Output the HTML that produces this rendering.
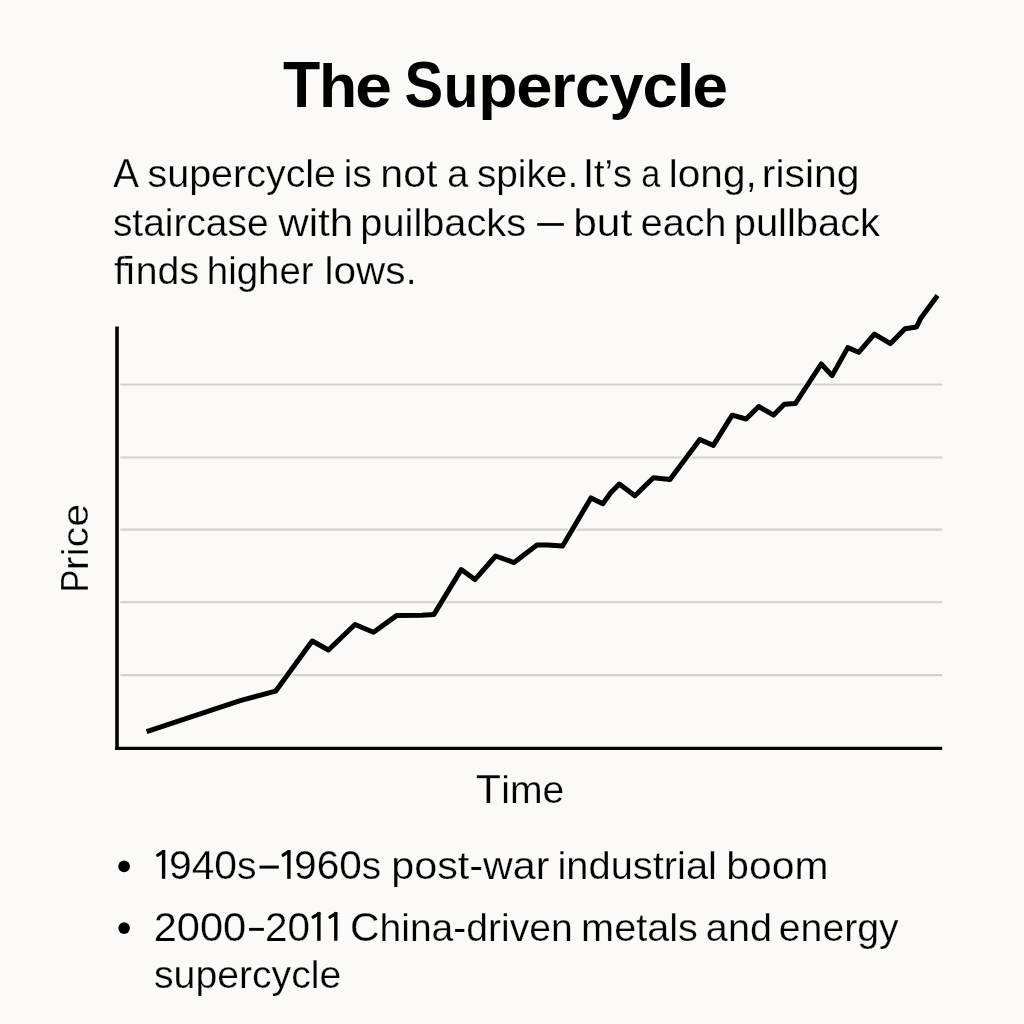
<!DOCTYPE html>
<html>
<head>
<meta charset="utf-8">
<style>
html,body{margin:0;padding:0;}
body{width:1024px;height:1024px;background:#FCFAF6;position:relative;overflow:hidden;font-family:"Liberation Sans",sans-serif;}
svg{position:absolute;left:0;top:0;will-change:transform;}
text{font-family:"Liberation Sans",sans-serif;fill:#000;font-kerning:none;}
</style>
</head>
<body>
<svg width="1024" height="1024" viewBox="0 0 1024 1024">
  <g id="ggrid" stroke="#D3D1CB" stroke-width="2.1">
    <line x1="120.4" y1="384.5" x2="942.2" y2="384.5"/>
    <line x1="120.4" y1="457.5" x2="942.2" y2="457.5"/>
    <line x1="120.4" y1="529.6" x2="942.2" y2="529.6"/>
    <line x1="120.4" y1="602.3" x2="942.2" y2="602.3"/>
    <line x1="120.4" y1="675.1" x2="942.2" y2="675.1"/>
  </g>
  <g id="gaxes" stroke="#000" fill="none">
    <line x1="117" y1="326.4" x2="117" y2="749.9" stroke-width="3.6"/>
    <line x1="115.2" y1="748.4" x2="942.2" y2="748.4" stroke-width="3.1"/>
  </g>
  <polyline id="halo" fill="none" stroke="#FCFAF6" stroke-width="7.5" stroke-linejoin="round" points="146.6,731.7 241,700.4 275.6,691.2 312.2,641 328.4,650 355,624.5 373.5,632.2 396.9,615.4 422.1,615.2 433.8,614.6 461.2,569.6 474.9,579.6 495.6,556 514,562.6 537,545 547.5,545 562.6,546 591,497.9 602.8,503.8 610.5,493 619.3,484 634.9,495.8 653.4,477.8 670,479.5 699.8,439.5 713.3,445.4 732.2,415.2 746.1,419 758.7,406.5 773.6,415.1 784.3,404.2 795.3,403.6 821.2,364 832.1,375.6 847.8,347.6 858.7,352.3 874.4,334.1 890.5,343.6 905,328.8 916.5,327 920.8,318.2 937.5,295.6"/>
  <polyline id="line" fill="none" stroke="#000" stroke-width="5.0" stroke-linejoin="round" points="146.6,731.7 241,700.4 275.6,691.2 312.2,641 328.4,650 355,624.5 373.5,632.2 396.9,615.4 422.1,615.2 433.8,614.6 461.2,569.6 474.9,579.6 495.6,556 514,562.6 537,545 547.5,545 562.6,546 591,497.9 602.8,503.8 610.5,493 619.3,484 634.9,495.8 653.4,477.8 670,479.5 699.8,439.5 713.3,445.4 732.2,415.2 746.1,419 758.7,406.5 773.6,415.1 784.3,404.2 795.3,403.6 821.2,364 832.1,375.6 847.8,347.6 858.7,352.3 874.4,334.1 890.5,343.6 905,328.8 916.5,327 920.8,318.2 937.5,295.6"/>
  <text id="priceP" x="0" y="0" font-size="39.2" stroke="#FCFAF6" stroke-width="0.25" textLength="22.81" lengthAdjust="spacingAndGlyphs" transform="translate(87.6,592.46) rotate(-90)">P</text>
  <text id="priceR" x="0" y="0" font-size="37.5" stroke="#FCFAF6" stroke-width="0.25" textLength="66.35" lengthAdjust="spacingAndGlyphs" transform="translate(87.6,570.31) rotate(-90)">rice</text>
  <g fill="#000">
    <rect x="537.2" y="223.1" width="26.6" height="2.7"/>
    <rect x="259.5" y="865.6" width="19.3" height="3.0"/>
    <rect x="249.1" y="927.9" width="14.8" height="2.9"/>
    <rect x="124" y="263.0" width="7.9" height="2.6"/>
    <rect x="123" y="255.9" width="9.3" height="2.7"/>
  </g>
  <g id="ones" fill="#000"><rect x="161.90" y="850.20" width="3.4" height="28.6"/><line x1="157.80" y1="855.20" x2="163.50" y2="851.60" stroke="#000" stroke-width="3.3" stroke-linecap="round"/><rect x="287.20" y="850.20" width="3.4" height="28.6"/><line x1="283.10" y1="855.20" x2="288.80" y2="851.60" stroke="#000" stroke-width="3.3" stroke-linecap="round"/><rect x="317.20" y="912.20" width="3.4" height="28.6"/><line x1="313.10" y1="917.20" x2="318.80" y2="913.60" stroke="#000" stroke-width="3.3" stroke-linecap="round"/><rect x="334.10" y="912.20" width="3.4" height="28.6"/><line x1="330.00" y1="917.20" x2="335.70" y2="913.60" stroke="#000" stroke-width="3.3" stroke-linecap="round"/></g>
  <circle cx="124.1" cy="866.4" r="5.8" fill="#000"/>
  <circle cx="124.1" cy="928.1" r="5.8" fill="#000"/>
  <text id="t0" x="282.92" y="106.7" font-size="61.5" font-weight="bold" textLength="37.23" lengthAdjust="spacingAndGlyphs"><tspan font-size="65">T</tspan></text>
  <text id="t1" x="318.98" y="106.7" font-size="61.5" font-weight="bold" textLength="38.18" lengthAdjust="spacingAndGlyphs">h</text>
  <text id="t2" x="355.23" y="106.7" font-size="61.5" font-weight="bold" textLength="36.70" lengthAdjust="spacingAndGlyphs">e</text>
  <text id="t3" x="404.56" y="106.7" font-size="61.5" font-weight="bold" textLength="38.64" lengthAdjust="spacingAndGlyphs"><tspan font-size="65">S</tspan></text>
  <text id="t4" x="443.85" y="106.7" font-size="61.5" font-weight="bold" textLength="34.60" lengthAdjust="spacingAndGlyphs">u</text>
  <text id="t5" x="478.15" y="106.7" font-size="61.5" font-weight="bold" textLength="39.19" lengthAdjust="spacingAndGlyphs">p</text>
  <text id="t6" x="516.15" y="106.7" font-size="61.5" font-weight="bold" textLength="36.23" lengthAdjust="spacingAndGlyphs">e</text>
  <text id="t7" x="551.01" y="106.7" font-size="61.5" font-weight="bold" textLength="24.66" lengthAdjust="spacingAndGlyphs">r</text>
  <text id="t8" x="575.08" y="106.7" font-size="61.5" font-weight="bold" textLength="34.97" lengthAdjust="spacingAndGlyphs">c</text>
  <text id="t9" x="609.58" y="106.7" font-size="61.5" font-weight="bold" textLength="34.23" lengthAdjust="spacingAndGlyphs">y</text>
  <text id="t10" x="642.43" y="106.7" font-size="61.5" font-weight="bold" textLength="35.34" lengthAdjust="spacingAndGlyphs">c</text>
  <text id="t11" x="676.67" y="106.7" font-size="61.5" font-weight="bold" textLength="17.61" lengthAdjust="spacingAndGlyphs">l</text>
  <text id="t12" x="692.52" y="106.7" font-size="61.5" font-weight="bold" textLength="35.49" lengthAdjust="spacingAndGlyphs">e</text>
  <text id="a1" x="113.29" y="186.8" font-size="39.5" stroke="#FCFAF6" stroke-width="0.25" textLength="25.66" lengthAdjust="spacingAndGlyphs"><tspan font-size="41.4">A</tspan></text>
  <text id="a2" x="147.47" y="186.8" font-size="39.5" stroke="#FCFAF6" stroke-width="0.25" textLength="188.61" lengthAdjust="spacingAndGlyphs">supercycle</text>
  <text id="a3" x="343.85" y="186.8" font-size="39.5" stroke="#FCFAF6" stroke-width="0.25" textLength="27.95" lengthAdjust="spacingAndGlyphs">is</text>
  <text id="a4" x="380.30" y="186.8" font-size="39.5" stroke="#FCFAF6" stroke-width="0.25" textLength="57.08" lengthAdjust="spacingAndGlyphs">not</text>
  <text id="a5" x="447.36" y="186.8" font-size="39.5" stroke="#FCFAF6" stroke-width="0.25" textLength="21.05" lengthAdjust="spacingAndGlyphs">a</text>
  <text id="a6" x="476.91" y="186.8" font-size="39.5" stroke="#FCFAF6" stroke-width="0.25" textLength="101.28" lengthAdjust="spacingAndGlyphs">spike.</text>
  <text id="a7" x="582.91" y="186.8" font-size="39.5" stroke="#FCFAF6" stroke-width="0.25" textLength="49.17" lengthAdjust="spacingAndGlyphs"><tspan font-size="41.4">I</tspan>t’s</text>
  <text id="a8" x="641.14" y="186.8" font-size="39.5" stroke="#FCFAF6" stroke-width="0.25" textLength="19.03" lengthAdjust="spacingAndGlyphs">a</text>
  <text id="a9" x="668.77" y="186.8" font-size="39.5" stroke="#FCFAF6" stroke-width="0.25" textLength="87.95" lengthAdjust="spacingAndGlyphs">long,</text>
  <text id="a10" x="761.83" y="186.8" font-size="39.5" stroke="#FCFAF6" stroke-width="0.25" textLength="97.71" lengthAdjust="spacingAndGlyphs">rising</text>
  <text id="b1" x="112.89" y="235.5" font-size="39.5" stroke="#FCFAF6" stroke-width="0.25" textLength="155.72" lengthAdjust="spacingAndGlyphs">staircase</text>
  <text id="b2" x="278.19" y="235.5" font-size="39.5" stroke="#FCFAF6" stroke-width="0.25" textLength="75.20" lengthAdjust="spacingAndGlyphs">with</text>
  <text id="b3" x="360.37" y="235.5" font-size="39.5" stroke="#FCFAF6" stroke-width="0.25" textLength="165.79" lengthAdjust="spacingAndGlyphs">puilbacks</text>
  <text id="b5" x="573.17" y="235.5" font-size="39.5" stroke="#FCFAF6" stroke-width="0.25" textLength="59.07" lengthAdjust="spacingAndGlyphs">but</text>
  <text id="b6" x="640.79" y="235.5" font-size="39.5" stroke="#FCFAF6" stroke-width="0.25" textLength="85.59" lengthAdjust="spacingAndGlyphs">each</text>
  <text id="b7" x="733.75" y="235.5" font-size="39.5" stroke="#FCFAF6" stroke-width="0.25" textLength="146.30" lengthAdjust="spacingAndGlyphs">pullback</text>
  <text id="c1" x="114.10" y="284.2" font-size="39.5" stroke="#FCFAF6" stroke-width="0.25" textLength="84.88" lengthAdjust="spacingAndGlyphs">fınds</text>
  <text id="c2" x="206.80" y="284.2" font-size="39.5" stroke="#FCFAF6" stroke-width="0.25" textLength="106.80" lengthAdjust="spacingAndGlyphs">higher</text>
  <text id="c3" x="324.44" y="284.2" font-size="39.5" stroke="#FCFAF6" stroke-width="0.25" textLength="92.21" lengthAdjust="spacingAndGlyphs">lows.</text>
  <text id="tm1" x="475.64" y="803.1" font-size="39.5" stroke="#FCFAF6" stroke-width="0.25" textLength="25.19" lengthAdjust="spacingAndGlyphs"><tspan font-size="41.4">T</tspan></text>
  <text id="tm2" x="501.31" y="803.1" font-size="39.5" stroke="#FCFAF6" stroke-width="0.25" textLength="63.05" lengthAdjust="spacingAndGlyphs">ime</text>
  <text id="d1" x="168.97" y="878.6" font-size="39.5" stroke="#FCFAF6" stroke-width="0.25" textLength="87.58" lengthAdjust="spacingAndGlyphs"><tspan font-size="41.4">940</tspan>s</text>
  <text id="d3" x="294.12" y="878.6" font-size="39.5" stroke="#FCFAF6" stroke-width="0.25" textLength="86.95" lengthAdjust="spacingAndGlyphs"><tspan font-size="41.4">960</tspan>s</text>
  <text id="d4" x="391.29" y="878.6" font-size="39.5" stroke="#FCFAF6" stroke-width="0.25" textLength="158.16" lengthAdjust="spacingAndGlyphs">post-war</text>
  <text id="d5" x="557.50" y="878.6" font-size="39.5" stroke="#FCFAF6" stroke-width="0.25" textLength="159.44" lengthAdjust="spacingAndGlyphs">industrial</text>
  <text id="d6" x="726.30" y="878.6" font-size="39.5" stroke="#FCFAF6" stroke-width="0.25" textLength="102.13" lengthAdjust="spacingAndGlyphs">boom</text>
  <text id="e1" x="153.67" y="940.9" font-size="39.5" stroke="#FCFAF6" stroke-width="0.25" textLength="92.60" lengthAdjust="spacingAndGlyphs"><tspan font-size="41.4">2000</tspan></text>
  <text id="e3" x="264.88" y="940.9" font-size="39.5" stroke="#FCFAF6" stroke-width="0.25" textLength="45.03" lengthAdjust="spacingAndGlyphs"><tspan font-size="41.4">20</tspan></text>
  <text id="e4" x="349.90" y="940.9" font-size="39.5" stroke="#FCFAF6" stroke-width="0.25" textLength="222.88" lengthAdjust="spacingAndGlyphs"><tspan font-size="41.4">C</tspan>hina-driven</text>
  <text id="e5" x="581.12" y="940.9" font-size="39.5" stroke="#FCFAF6" stroke-width="0.25" textLength="116.80" lengthAdjust="spacingAndGlyphs">metals</text>
  <text id="e6" x="705.89" y="940.9" font-size="39.5" stroke="#FCFAF6" stroke-width="0.25" textLength="66.05" lengthAdjust="spacingAndGlyphs">and</text>
  <text id="e7" x="778.82" y="940.9" font-size="39.5" stroke="#FCFAF6" stroke-width="0.25" textLength="119.88" lengthAdjust="spacingAndGlyphs">energy</text>
  <text id="f1" x="154.02" y="988.2" font-size="39.5" stroke="#FCFAF6" stroke-width="0.25" textLength="187.27" lengthAdjust="spacingAndGlyphs">supercycle</text>
</svg>
</body>
</html>
